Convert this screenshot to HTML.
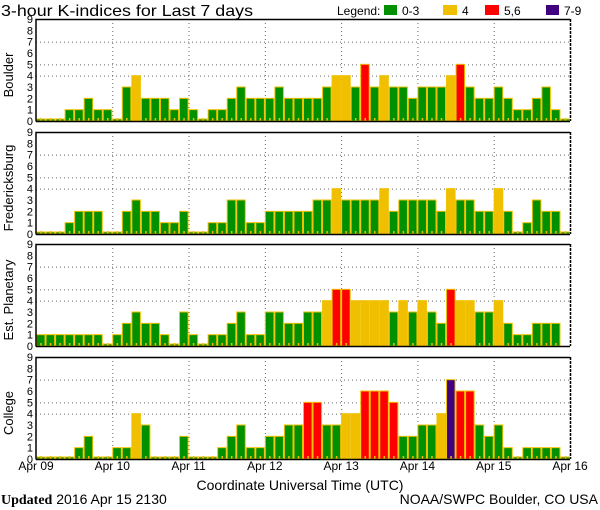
<!DOCTYPE html>
<html><head><meta charset="utf-8"><style>
html,body{margin:0;padding:0;background:#fff;}
svg{display:block;font-family:"Liberation Sans",sans-serif;}
</style></head><body>
<svg id="chart" width="600" height="510" viewBox="0 0 600 510" xmlns="http://www.w3.org/2000/svg">
<text x="1" y="16" font-size="16" fill="#000" textLength="252" lengthAdjust="spacingAndGlyphs">3-hour K-indices for Last 7 days</text>
<g font-size="12">
<text x="337" y="15">Legend:</text>
<rect x="384" y="5" width="13" height="10" fill="#009000"/>
<text x="402" y="15">0-3</text>
<rect x="443" y="5" width="14" height="10" fill="#f0c000"/>
<text x="462" y="15">4</text>
<rect x="485" y="5" width="14" height="10" fill="#ff0000"/>
<text x="504" y="15">5,6</text>
<rect x="546" y="5" width="13" height="10" fill="#400080"/>
<text x="564" y="15">7-9</text>
</g>
<g id="panels"></g>
<text x="300" y="490" font-size="14" text-anchor="middle">Coordinate Universal Time (UTC)</text>
<text x="1" y="504" font-size="14"><tspan font-family="Liberation Serif, serif" font-weight="bold">Updated</tspan> 2016 Apr 15 2130</text>
<text x="598" y="504" font-size="14" text-anchor="end">NOAA/SWPC Boulder, CO USA</text>
</svg>
<script>
const stations = ["Boulder","Fredericksburg","Est. Planetary","College"];
const dayLabels = ["Apr 09","Apr 10","Apr 11","Apr 12","Apr 13","Apr 14","Apr 15","Apr 16"];
const yTicks = [0,1,2,3,4,5,6,7,8,9];
const gridLevels = [4,5,7];
const boulder = [0,0,0,1,1,2,1,1, 0,3,4,2,2,2,1,2, 1,0,1,1,2,3,2,2, 2,3,2,2,2,2,3,4, 4,3,5,3,4,3,3,2, 3,3,3,4,5,3,2,2, 3,2,1,1,2,3,1,0];
const fredericksburg = [0,0,0,1,2,2,2,0, 0,2,3,2,2,1,1,2, 0,0,1,1,3,3,1,1, 2,2,2,2,2,3,3,4, 3,3,3,3,4,2,3,3, 3,3,2,4,3,3,2,2, 4,2,0,1,3,2,2,0];
const planetary = [1,1,1,1,1,1,1,0, 1,2,3,2,2,1,0,3, 1,0,1,1,2,3,1,1, 3,3,2,2,3,3,4,5, 5,4,4,4,4,3,4,3, 4,3,2,5,4,4,3,3, 4,2,1,1,2,2,2,null];
const college = [0,0,0,0,1,2,0,0, 1,1,4,3,0,0,0,2, 0,0,0,1,2,3,1,1, 2,2,3,3,5,5,3,3, 4,4,6,6,6,5,2,2, 3,3,4,7,6,6,3,2, 3,1,0,1,1,1,1,0];
const series = [boulder, fredericksburg, planetary, college];

const NS="http://www.w3.org/2000/svg";
const X0=36, X1=570, PH=102, UNIT=PH/9;
const tops=[19,132,244,357];
const nBars=56;
const bw=(X1-X0)/nBars;
function xScale(i){return X0+i*bw;}
function dayX(d){return X0+d*(X1-X0)/7;}
function mk(tag,attrs,parent){const e=document.createElementNS(NS,tag);for(const k in attrs)e.setAttribute(k,attrs[k]);parent.appendChild(e);return e;}
function color(v){return v>=7?"#400080":v>=5?"#ff0000":v>=4?"#f0c000":"#009000";}
const root=document.getElementById("panels");
series.forEach((data,p)=>{
  const top=tops[p], base=top+PH;
  const yScale=v=>base-v*UNIT;
  const g=mk("g",{},root);
  
  
  gridLevels.forEach(l=>{
    const ln=mk("line",{x1:X0,x2:X1,y1:yScale(l)+0.5,y2:yScale(l)+0.5,stroke:"#666","stroke-width":1,"stroke-dasharray":"1,3"},g);
    
    
  });
  for(let d=1;d<7;d++){
    const ln=mk("line",{x1:dayX(d)+0.5,x2:dayX(d)+0.5,y1:top,y2:base,stroke:"#666","stroke-width":1,"stroke-dasharray":"1,3"},g);
    
    
  }
  data.forEach((v,i)=>{
    if(v===null||v===undefined)return;
    const h=Math.max(v*UNIT,2);
    const r=mk("rect",{x:xScale(i)+0.5,y:base-h,width:bw-1,height:h,fill:color(v),stroke:"#f0c000","stroke-width":1},g);
    
    
    const t=mk("rect",{x:xScale(i)+bw/2-0.5,y:base-3,width:1.5,height:3,fill:"#f0c000"},g);
    
    
  });
  const b1=mk("path",{d:`M${X0},${base+0.5} L${X0},${top+0.5} L${X1},${top+0.5} M${X0},${base+0.5} L${X1},${base+0.5}`,fill:"none",stroke:"#000","stroke-width":1.5},g);
  
  
  const b2=mk("line",{x1:X1+0.5,x2:X1+0.5,y1:top,y2:base,stroke:"#000","stroke-width":1.5,"stroke-dasharray":"3,1"},g);
  
  
  yTicks.forEach(v=>{
    const t=mk("text",{x:33,y:yScale(v)+4,"font-size":11,"text-anchor":"end"},g);
    t.textContent=v;
    
    
  });
  const yt=mk("text",{x:0,y:0,"font-size":13,"text-anchor":"middle",transform:`translate(13,${top+PH/2+5}) rotate(-90)`},g);
  yt.textContent=stations[p];
  
  
});
dayLabels.forEach((lab,d)=>{
  const t=mk("text",{x:dayX(d),y:470,"font-size":12,"text-anchor":"middle"},root);
  t.textContent=lab;
  
  
});
</script>
</body></html>
